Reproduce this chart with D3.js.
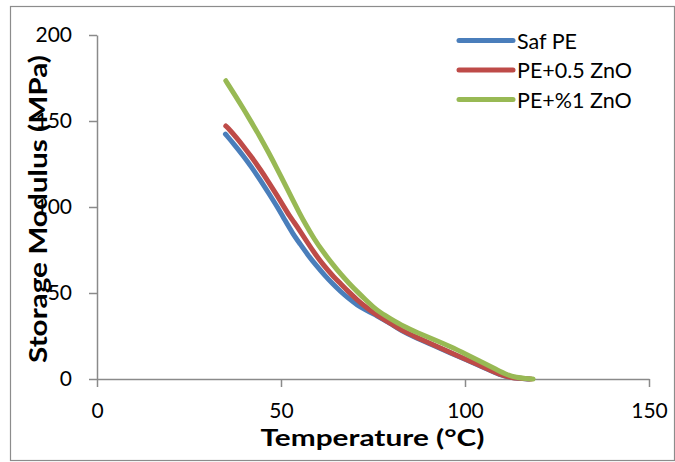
<!DOCTYPE html>
<html>
<head>
<meta charset="utf-8">
<script src="https://cdn.jsdelivr.net/npm/d3@7"></script>
<style>
  html, body { margin: 0; padding: 0; background: #fff; }
  svg { display: block; }
  text { font-family: Lato, "Open Sans", sans-serif; fill: #000; }
</style>
</head>
<body>
<svg id="chart" width="675" height="462"></svg>
<script>
// Storage modulus (MPa) against temperature (°C) for three PE samples
const seriesNames = ["Saf PE", "PE+0.5 ZnO", "PE+%1 ZnO"];
const seriesColors = ["#4A7EBB", "#BE4B48", "#98B954"];

const safPE_T = [34.9, 37.2, 39.75, 42.0, 44.4, 46.6, 48.9, 51.0, 53.2, 55.2, 57.4, 59.5, 61.8, 64.0, 66.2, 68.5, 70.7, 73.0, 75.2, 77.5, 79.8, 82.5, 87.0, 91.5, 96.0, 100.7, 105.0, 109.7, 112.5, 114.3, 117.5];
const safPE_E = [142.4, 136.6, 129.8, 123.2, 115.6, 108.2, 100.4, 92.6, 84.5, 78.5, 71.8, 66.2, 60.4, 55.4, 50.8, 46.6, 43.0, 40.2, 37.8, 35.0, 32.2, 28.3, 23.6, 19.5, 15.2, 10.8, 6.8, 2.2, 0.8, 0.4, 0.0];

const pe05_T = [35.0, 36.0, 37.8, 39.75, 42.0, 44.4, 46.6, 48.9, 51.0, 52.2, 53.4, 55.2, 57.1, 59.3, 61.6, 63.9, 66.2, 68.5, 70.7, 73.0, 75.2, 77.5, 79.8, 82.5, 87.0, 91.5, 96.0, 100.7, 105.0, 109.7, 112.5, 114.3, 118.0];
const pe05_E = [147.1, 145.0, 140.6, 135.4, 129.0, 121.8, 114.6, 106.8, 99.4, 95.2, 91.6, 86.0, 79.6, 72.6, 66.0, 60.4, 55.4, 50.4, 46.0, 41.9, 38.3, 35.2, 32.4, 28.5, 24.0, 19.8, 15.4, 11.0, 7.0, 2.3, 0.9, 0.4, 0.0];

const pe1_T = [35.0, 37.4, 39.75, 42.0, 44.4, 46.6, 48.9, 51.2, 53.4, 55.0, 56.6, 59.0, 61.6, 64.0, 66.2, 68.5, 70.7, 73.0, 75.2, 77.0, 79.8, 83.4, 87.0, 91.5, 96.1, 100.5, 105.1, 108.5, 111.5, 114.0, 116.5, 118.5];
const pe1_E = [173.4, 165.4, 157.2, 149.2, 140.4, 131.8, 122.4, 112.6, 103.2, 96.6, 90.2, 81.4, 73.4, 66.8, 61.0, 55.6, 50.8, 46.0, 41.6, 38.6, 35.0, 30.5, 27.0, 23.0, 18.8, 14.2, 9.3, 5.6, 2.3, 0.9, 0.3, 0.0];

const seriesT = [safPE_T, pe05_T, pe1_T];
const seriesE = [safPE_E, pe05_E, pe1_E];

const xTicks = [0, 50, 100, 150];
const yTicks = [0, 50, 100, 150, 200];
const xTitle = "Temperature (°C)";
const yTitle = "Storage Modulus (MPa)";

const svg = d3.select("#chart");
const axisColor = "#8A8A8A";

// chart frame
svg.append("rect")
  .attr("x", 10.5).attr("y", 6.5)
  .attr("width", 664).attr("height", 454)
  .attr("fill", "none")
  .attr("stroke", "#8C8C8C")
  .attr("stroke-width", 1.2);

const x = d3.scaleLinear().domain([0, 150]).range([97, 649]);
const y = d3.scaleLinear().domain([0, 200]).range([379, 35]);

// y axis
const gy = svg.append("g")
  .attr("transform", `translate(${x(0)},0)`)
  .call(d3.axisLeft(y).tickValues(yTicks).tickSize(8).tickSizeOuter(0).tickPadding(17));
// x axis
const gx = svg.append("g")
  .attr("transform", `translate(0,${y(0)})`)
  .call(d3.axisBottom(x).tickValues(xTicks).tickSize(8).tickSizeOuter(0).tickPadding(16));

[gx, gy].forEach(g => {
  g.select(".domain").attr("stroke", axisColor).attr("stroke-width", 1.5);
  g.selectAll(".tick line").attr("stroke", axisColor).attr("stroke-width", 1.5);
  g.selectAll(".tick text")
    .attr("fill", "#000")
    .style("font-family", "Lato, 'Open Sans', sans-serif")
    .style("font-size", "21px");
});

// curves: blue under red under green
const line = d3.line()
  .x(d => x(d[0]))
  .y(d => y(d[1]))
  .curve(d3.curveBasis);

seriesT.forEach((ts, i) => {
  const pts = ts.map((t, j) => [t, seriesE[i][j]]);
  svg.append("path")
    .datum(pts)
    .attr("d", line)
    .attr("fill", "none")
    .attr("stroke", seriesColors[i])
    .attr("stroke-width", 5)
    .attr("stroke-linecap", "round")
    .attr("stroke-linejoin", "round");
});

// axis titles
svg.append("text")
  .attr("x", 372.5).attr("y", 446)
  .attr("text-anchor", "middle")
  .attr("textLength", 224)
  .attr("lengthAdjust", "spacingAndGlyphs")
  .style("font-weight", "bold")
  .style("font-size", "23.5px")
  .text(xTitle);

svg.append("text")
  .attr("transform", "translate(47,209) rotate(-90)")
  .attr("text-anchor", "middle")
  .attr("textLength", 308)
  .attr("lengthAdjust", "spacingAndGlyphs")
  .style("font-weight", "bold")
  .style("font-size", "25px")
  .text(yTitle);

// legend
const legend = svg.append("g");
seriesNames.forEach((name, i) => {
  const ly = 40.5 + i * 29.5;
  legend.append("line")
    .attr("x1", 459).attr("x2", 513)
    .attr("y1", ly).attr("y2", ly)
    .attr("stroke", seriesColors[i])
    .attr("stroke-width", 5)
    .attr("stroke-linecap", "round");
  legend.append("text")
    .attr("x", 517).attr("y", ly)
    .attr("dominant-baseline", "central")
    .style("font-size", "21.5px")
    .text(name);
});
</script>
</body>
</html>
